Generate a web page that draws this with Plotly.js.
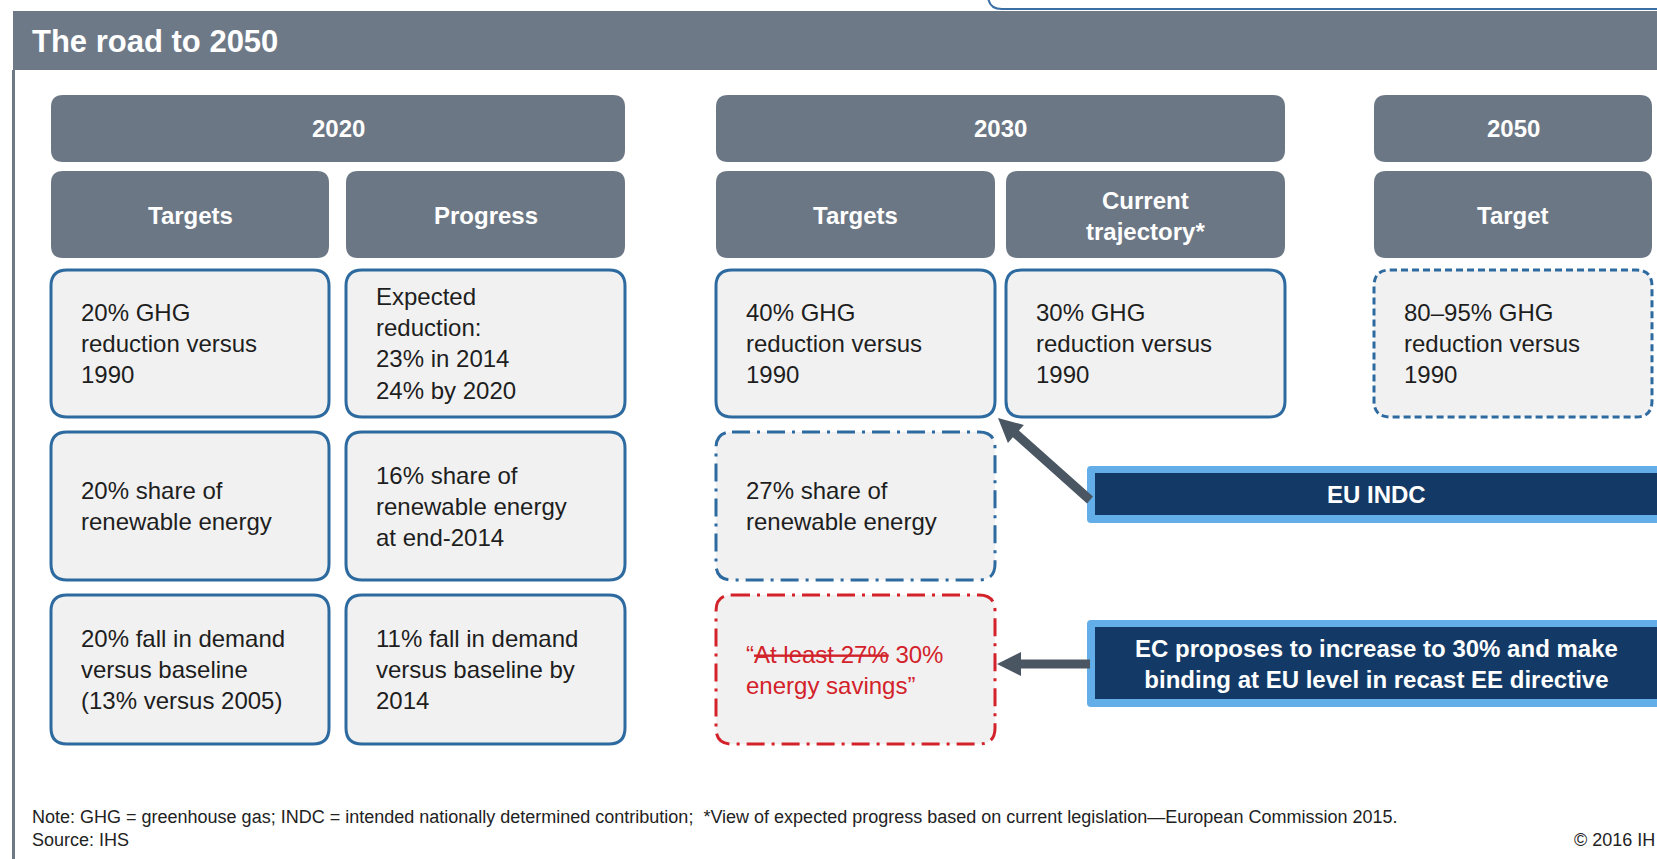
<!DOCTYPE html>
<html>
<head>
<meta charset="utf-8">
<script src="https://cdn.plot.ly/plotly-3.0.1.min.js"></script>
<style>html,body{margin:0;padding:0;background:#fff;}#chart{width:1657px;height:859px;}</style>
</head>
<body>
<div id="chart"></div>
<script>
// ---- content (data) ----
const chartTitle = 'The road to 2050';
const periodHeaders = ['2020', '2030', '2050'];
const columnHeaders = ['Targets', 'Progress', 'Targets', 'Current<br>trajectory*', 'Target'];
const targets2020 = [
  '20% GHG<br>reduction versus<br>1990',
  '20% share of<br>renewable energy',
  '20% fall in demand<br>versus baseline<br>(13% versus 2005)'
];
const progress2020 = [
  'Expected<br>reduction:<br>23% in 2014<br>24% by 2020',
  '16% share of<br>renewable energy<br>at end-2014',
  '11% fall in demand<br>versus baseline by<br>2014'
];
const targets2030 = [
  '40% GHG<br>reduction versus<br>1990',
  '27% share of<br>renewable energy',
  '“<s>At least 27%</s> 30%<br>energy savings”'
];
const trajectory2030 = ['30% GHG<br>reduction versus<br>1990'];
const target2050 = ['80–95% GHG<br>reduction versus<br>1990'];
const callouts = ['EU INDC', 'EC proposes to increase to 30% and make<br>binding at EU level in recast EE directive'];
const noteText = 'Note: GHG = greenhouse gas; INDC = intended nationally determined contribution;  *View of expected progress based on current legislation—European Commission 2015.';
const sourceText = 'Source: IHS';
const copyrightText = '© 2016 IH';

// ---- layout geometry ----
const W = 1657, H = 859;
const cols = [[51, 329], [346, 625], [716, 995], [1006, 1285], [1374, 1652]];
const periodSpan = [[0, 1], [2, 3], [4, 4]];
const hdr1 = [95, 162], hdr2 = [171, 258];
const rows = [[270, 417], [432, 580], [595, 744]];
const calloutY = [[466, 523], [620, 707]];
const calloutX = [1087, 1700];

const C = {
  band: '#6e7987', hdr: '#6c7785', fill: '#f1f1f1', blue: '#2d6aa0',
  red: '#d3222a', navy: '#133a66', light: '#63aee8', arrow: '#4b5663', text: '#1e1e1e'
};
const FONT = '"Liberation Sans", Arial, sans-serif';

function rr(x0, y0, x1, y1, r) {
  return `M${x0 + r},${y0} L${x1 - r},${y0} Q${x1},${y0} ${x1},${y0 + r} L${x1},${y1 - r} Q${x1},${y1} ${x1 - r},${y1} ` +
         `L${x0 + r},${y1} Q${x0},${y1} ${x0},${y1 - r} L${x0},${y0 + r} Q${x0},${y0} ${x0 + r},${y0} Z`;
}
function arrowPath(tx, ty, hx, hy, sw, hl, hw) {
  const dx = hx - tx, dy = hy - ty, L = Math.hypot(dx, dy);
  const ux = dx / L, uy = dy / L, nx = -uy, ny = ux;
  const bx = hx - ux * hl, by = hy - uy * hl;
  const p = [
    [tx + nx * sw, ty + ny * sw], [bx + nx * sw, by + ny * sw], [bx + nx * hw, by + ny * hw],
    [hx, hy], [bx - nx * hw, by - ny * hw], [bx - nx * sw, by - ny * sw], [tx - nx * sw, ty - ny * sw]
  ];
  return 'M' + p.map(q => q[0].toFixed(1) + ',' + q[1].toFixed(1)).join(' L') + ' Z';
}

const shapes = [];
const annotations = [];
function shape(path, fill, lineColor, lineWidth, dash) {
  shapes.push({type: 'path', xref: 'x', yref: 'y', path: path, fillcolor: fill,
    line: {color: lineColor, width: lineWidth, dash: dash || 'solid'}, layer: 'above'});
}
function text(t, x, y, opts) {
  annotations.push(Object.assign({text: t, x: x, y: y, xref: 'x', yref: 'y', showarrow: false,
    xanchor: 'center', yanchor: 'middle', align: 'center',
    font: {family: FONT, size: 24, color: C.text}}, opts || {}));
}

// top partial box and header band / frame
shape(rr(988, -40, 1700, 9, 14), '#ffffff', '#3a6fa5', 2);
shape(`M13,11 L${W},11 L${W},70 L13,70 Z`, C.band, C.band, 0);
shape(`M12,70 L15,70 L15,${H} L12,${H} Z`, C.band, C.band, 0);
text(chartTitle, 30, 41, {xanchor: 'left', font: {family: FONT, size: 31, color: '#ffffff', weight: 'bold'}});

// period headers
periodHeaders.forEach((p, i) => {
  const x0 = cols[periodSpan[i][0]][0], x1 = cols[periodSpan[i][1]][1];
  shape(rr(x0, hdr1[0], x1, hdr1[1], 12), C.hdr, C.hdr, 0);
  text('<b>' + p + '</b>', (x0 + x1) / 2, (hdr1[0] + hdr1[1]) / 2, {font: {family: FONT, size: 24, color: '#ffffff'}});
});
// column headers
columnHeaders.forEach((h, i) => {
  const [x0, x1] = cols[i];
  shape(rr(x0, hdr2[0], x1, hdr2[1], 12), C.hdr, C.hdr, 0);
  text('<b>' + h + '</b>', (x0 + x1) / 2, (hdr2[0] + hdr2[1]) / 2 + 1, {font: {family: FONT, size: 24, color: '#ffffff'}});
});

// content boxes
const columnsContent = [targets2020, progress2020, targets2030, trajectory2030, target2050];
const styleFor = (ci, ri) => {
  if (ci === 4) return {line: C.blue, dash: '7px,4px', color: C.text};
  if (ci === 2 && ri === 1) return {line: C.blue, dash: '18px,7px,3px,7px', color: C.text};
  if (ci === 2 && ri === 2) return {line: C.red, dash: '18px,7px,3px,7px', color: C.red};
  return {line: C.blue, dash: 'solid', color: C.text};
};
columnsContent.forEach((arr, ci) => {
  arr.forEach((t, ri) => {
    const [x0, x1] = cols[ci], [y0, y1] = rows[ri];
    const st = styleFor(ci, ri);
    shape(rr(x0, y0, x1, y1, 16), C.fill, st.line, 3, st.dash);
    text(t, x0 + 28, (y0 + y1) / 2, {xanchor: 'left', align: 'left', font: {family: FONT, size: 24, color: st.color}});
  });
});

// callouts
callouts.forEach((t, i) => {
  const [y0, y1] = calloutY[i];
  shape(rr(calloutX[0], y0, calloutX[1], y1, 4), C.light, C.light, 0);
  shape(`M${calloutX[0] + 8},${y0 + 7} L${calloutX[1]},${y0 + 7} L${calloutX[1]},${y1 - 8} L${calloutX[0] + 8},${y1 - 8} Z`, C.navy, C.navy, 0);
  text('<b>' + t + '</b>', 1376, (y0 + y1) / 2, {font: {family: FONT, size: 24, color: '#ffffff'}});
});

// arrows
shape(arrowPath(1090, 500, 998, 418, 4.5, 24, 12), C.arrow, C.arrow, 0);
shape(arrowPath(1090, 664, 997, 664, 4.5, 24, 12), C.arrow, C.arrow, 0);

// footer
text(noteText, 30, 817, {xanchor: 'left', align: 'left', font: {family: FONT, size: 18, color: '#222'}});
text(sourceText, 30, 840, {xanchor: 'left', align: 'left', font: {family: FONT, size: 18, color: '#222'}});
text(copyrightText, 1657, 840, {xanchor: 'right', align: 'right', font: {family: FONT, size: 18, color: '#222'}});

const layout = {
  width: W, height: H, margin: {l: 0, r: 0, t: 0, b: 0},
  paper_bgcolor: '#ffffff', plot_bgcolor: '#ffffff', showlegend: false,
  xaxis: {range: [0, W], visible: false, fixedrange: true},
  yaxis: {range: [H, 0], visible: false, fixedrange: true},
  shapes: shapes, annotations: annotations
};
Plotly.newPlot('chart', [{x: [], y: [], type: 'scatter', mode: 'markers', hoverinfo: 'skip'}], layout, {displayModeBar: false, staticPlot: true});
</script>
</body>
</html>
